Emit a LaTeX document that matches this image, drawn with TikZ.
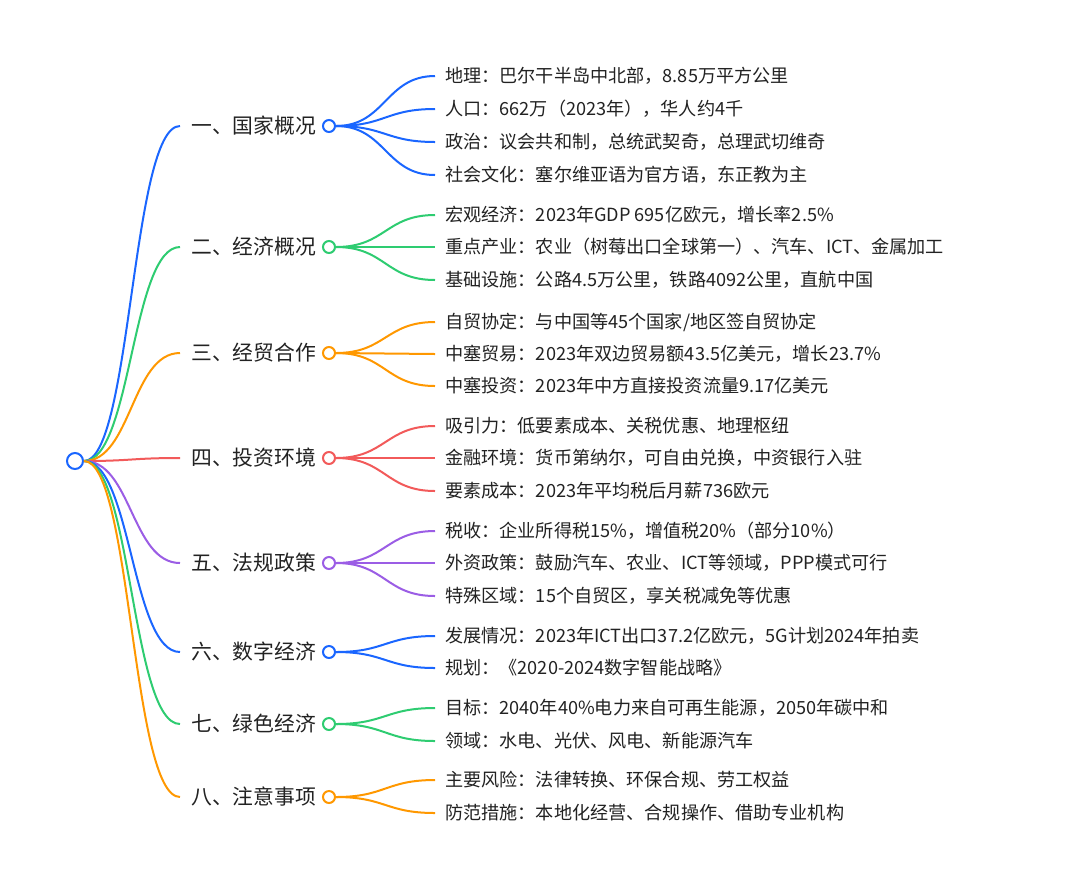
\documentclass[tikz,border=0pt]{standalone}
\usepackage{fontspec}
\usetikzlibrary{calc}
\newfontfamily\cjk[RawFeature=+chws]{Noto Sans CJK SC}
\definecolor{cblue}{HTML}{1A66FF}
\definecolor{cgreen}{HTML}{2ECC71}
\definecolor{corange}{HTML}{FF9800}
\definecolor{cred}{HTML}{F25A5A}
\definecolor{cpurple}{HTML}{9B5DE5}
\definecolor{txt}{HTML}{222222}
\begin{document}
\begin{tikzpicture}[x=0.75pt,y=-0.75pt,
  link/.style={line width=1.5pt},
  dot/.style={circle,line width=1.5pt,minimum size=9pt,inner sep=0pt,fill=white},
  cattext/.style={anchor=west,inner ysep=0pt,inner xsep=8.25pt,text=txt,font=\cjk\fontsize{15.6pt}{18pt}\selectfont},
  leaftext/.style={anchor=west,inner ysep=0pt,inner xsep=7.5pt,text=txt,font=\cjk\fontsize{13.6pt}{16pt}\selectfont}]
\useasboundingbox (0,0) rectangle (1080,890);
\fill[white] (0,0) rectangle (1080,890);
\node[circle,draw=cblue,line width=1.5pt,minimum size=12pt,inner sep=0pt,fill=white] (root) at (75,461) {};
\foreach \i/\y/\c/\t in {
 1/126/cblue/{一、国家概况},
 2/247/cgreen/{二、经济概况},
 3/353/corange/{三、经贸合作},
 4/458/cred/{四、投资环境},
 5/563/cpurple/{五、法规政策},
 6/652/cblue/{六、数字经济},
 7/724/cgreen/{七、绿色经济},
 8/797/corange/{八、注意事项}}{
  \node[cattext] (t\i) at (180,\y) {\t};
  \draw[link,\c] (root.east) .. controls (131.5,461) and (131.5,\y) .. (t\i.west);
  \node[dot,draw=\c] (d\i) at (329,\y) {};
}
\foreach \j/\i/\y/\c/\t in {
 1/1/76/cblue/{地理：巴尔干半岛中北部，8.85万平方公里},
 2/1/109/cblue/{人口：662万（2023年），华人约4千},
 3/1/142/cblue/{政治：议会共和制，总统武契奇，总理武切维奇},
 4/1/175/cblue/{社会文化：塞尔维亚语为官方语，东正教为主},
 5/2/215/cgreen/{宏观经济：2023年GDP 695亿欧元，增长率2.5\%},
 6/2/247/cgreen/{重点产业：农业（树莓出口全球第一）、汽车、ICT、金属加工},
 7/2/280/cgreen/{基础设施：公路4.5万公里，铁路4092公里，直航中国},
 8/3/322/corange/{自贸协定：与中国等45个国家/地区签自贸协定},
 9/3/354/corange/{中塞贸易：2023年双边贸易额43.5亿美元，增长23.7\%},
 10/3/386/corange/{中塞投资：2023年中方直接投资流量9.17亿美元},
 11/4/426/cred/{吸引力：低要素成本、关税优惠、地理枢纽},
 12/4/458/cred/{金融环境：货币第纳尔，可自由兑换，中资银行入驻},
 13/4/491/cred/{要素成本：2023年平均税后月薪736欧元},
 14/5/531/cpurple/{税收：企业所得税15\%，增值税20\%（部分10\%）},
 15/5/563/cpurple/{外资政策：鼓励汽车、农业、ICT等领域，PPP模式可行},
 16/5/596/cpurple/{特殊区域：15个自贸区，享关税减免等优惠},
 17/6/636/cblue/{发展情况：2023年ICT出口37.2亿欧元，5G计划2024年拍卖},
 18/6/668/cblue/{规划：《2020-2024数字智能战略》},
 19/7/708/cgreen/{目标：2040年40\%电力来自可再生能源，2050年碳中和},
 20/7/741/cgreen/{领域：水电、光伏、风电、新能源汽车},
 21/8/780/corange/{主要风险：法律转换、环保合规、劳工权益},
 22/8/813/corange/{防范措施：本地化经营、合规操作、借助专业机构}}{
  \node[leaftext] (l\j) at (435,\y) {\t};
  \draw[link,\c] let \p1=(d\i.east), \p2=(l\j.west) in
    (\p1) .. controls ({(\x1+\x2)/2},\y1) and ({(\x1+\x2)/2},\y2) .. (\p2);
}
\end{tikzpicture}
\end{document}
